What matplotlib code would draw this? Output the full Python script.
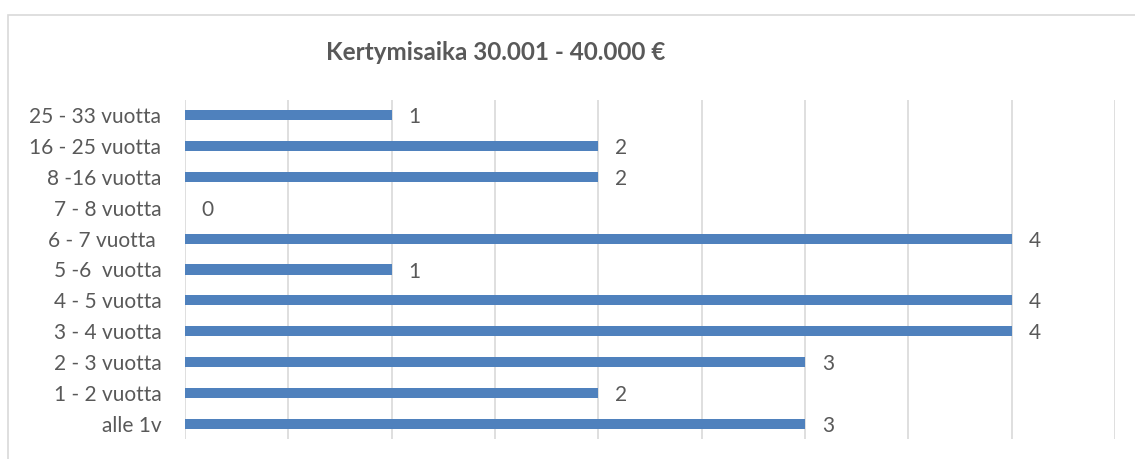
import matplotlib
matplotlib.use("Agg")
import matplotlib.pyplot as plt
from matplotlib.patches import Rectangle

categories = ["alle 1v", "1 - 2 vuotta", "2 - 3 vuotta", "3 - 4 vuotta", "4 - 5 vuotta",
              "5 -6  vuotta", "6 - 7 vuotta ", "7 - 8 vuotta", "8 -16 vuotta",
              "16 - 25 vuotta", "25 - 33 vuotta"]
values = [3, 2, 3, 4, 4, 1, 4, 0, 2, 2, 1]
title = "Kertymisaika 30.001 - 40.000 €"

plt.rcParams['font.family'] = ['Lato', 'DejaVu Sans']
W, H = 1135, 459
fig = plt.figure(figsize=(W / 100, H / 100), dpi=100)
ax = fig.add_axes([185 / W, 1 - 439 / H, (1115 - 185) / W, (439 - 100) / H])

text_c = "#595959"
grid_c = "#d9d9d9"
bar_c = "#4f81bd"

y = list(range(len(categories)))
ax.barh(y, values, height=0.33, color=bar_c, zorder=3)
ax.set_xlim(0, 4.5)
ax.set_ylim(-0.5, len(categories) - 0.5)
ax.set_xticks([i * 0.5 for i in range(10)])
ax.set_xticklabels([])
ax.tick_params(axis='x', length=0)
ax.tick_params(axis='y', length=0, pad=17, labelsize=15, labelcolor=text_c)
ax.set_yticks(y)
ax.set_yticklabels(categories)
ax.grid(axis='x', color=grid_c, linewidth=1.2, zorder=0)
for s in ax.spines.values():
    s.set_visible(False)

for yi, v in zip(y, values):
    ax.annotate(str(v), (v, yi), xytext=(12, -1.5), textcoords='offset points',
                va='center', ha='left', fontsize=15, color=text_c)

fig.text(496 / W, 1 - 53 / H, title, ha='center', va='center', fontsize=17.5,
         fontweight='bold', color=text_c)

fig.patches.append(Rectangle((8 / W, -0.1), 1.2, 1 - 15 / H + 0.1, transform=fig.transFigure,
                             fill=False, edgecolor="#d9d9d9", linewidth=1.2))

fig.savefig("out.png", dpi=100)
